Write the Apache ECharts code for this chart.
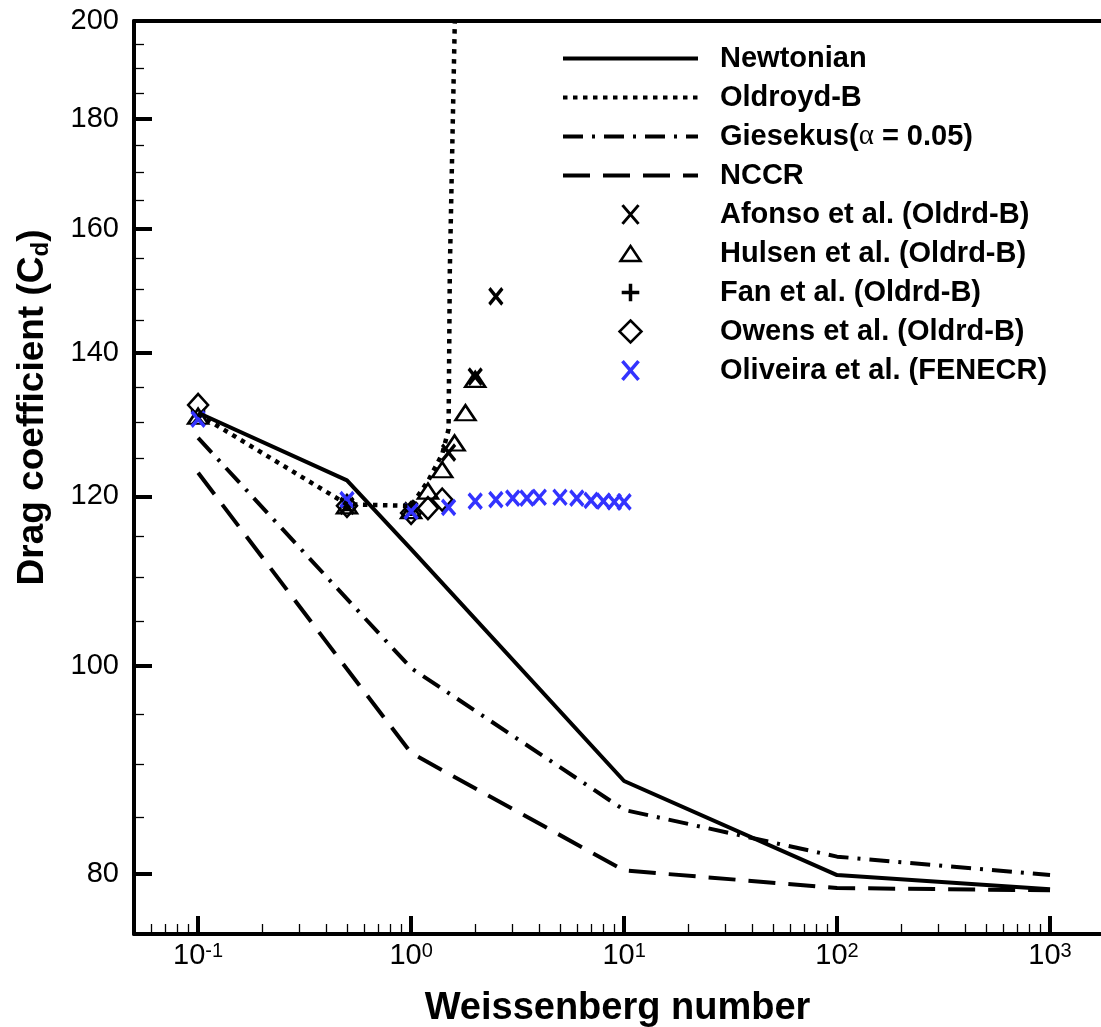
<!DOCTYPE html>
<html>
<head>
<meta charset="utf-8">
<title>Drag coefficient vs Weissenberg number</title>
<script src="https://cdn.jsdelivr.net/npm/echarts@6/dist/echarts.min.js"></script>
<style>
	html, body { margin: 0; padding: 0; background: #fff; }
	#chart { width: 1101px; height: 1027px; }
</style>
</head>
<body>
<div id="chart"></div>
<script>
	// values (Weissenberg number -> drag coefficient)
	var weLine = [0.1, 0.5, 1, 10, 100, 1000];
	var cdNewtonian = [131.3, 122.1, 113.4, 88.4, 79.9, 78.7];
	var cdGiesekus = [127.8, 107.5, 99.8, 85.7, 81.5, 79.9];
	var cdNccr = [123.1, 99.7, 91.1, 80.3, 78.8, 78.6];

	var weOldroyd = [0.1, 0.5, 1, 1.2, 1.4, 1.5, 1.52, 1.62];
	var cdOldroyd = [131.1, 119.0, 118.8, 122.0, 125.6, 129.0, 153, 210];

	var weAfonso = [0.1, 0.5, 1, 1.5, 2, 2.5];
	var cdAfonso = [130.6, 118.8, 118.2, 125.8, 136.5, 148.8];

	var weHulsen = [0.1, 0.5, 1, 1.2, 1.4, 1.6, 1.8, 2.0];
	var cdHulsen = [130.8, 118.8, 118.2, 120.7, 123.5, 127.1, 131.3, 136.1];

	var weFan = [0.5, 1];
	var cdFan = [118.8, 118.2];

	var weOwens = [0.1, 0.5, 1, 1.2, 1.4];
	var cdOwens = [132.4, 118.8, 117.9, 118.5, 119.6];

	var weOliveira = [0.1, 0.5, 1, 1.5, 2, 2.5, 3, 3.5, 4, 5, 6, 7, 8, 9, 10];
	var cdOliveira = [130.4, 119.6, 118.1, 118.6, 119.4, 119.6, 119.8, 119.8, 119.9, 119.9, 119.8, 119.5, 119.4, 119.3, 119.3];

	// axis ranges and ticks
	var xRange = [0.05, 1735];
	var yRange = [75, 200];
	var xMajor = [0.1, 1, 10, 100, 1000];
	var yMajor = [80, 100, 120, 140, 160, 180, 200];
	var yMinor = [85, 90, 95, 105, 110, 115, 125, 130, 135, 145, 150, 155, 165, 170, 175, 185, 190, 195];

	var xMinor = [];
	[0.01, 0.1, 1, 10, 100].forEach(function (d) {
		for (var k = 2; k <= 9; k++) {
			var v = k * d;
			if (v > xRange[0] && v < xRange[1]) xMinor.push(v);
		}
	});

	var lg = Math.log10;
	var font = 'Liberation Sans, Arial, Helvetica, sans-serif';
	var blue = '#3333ff';
	var xPath = 'path://M0,0L12,14M12,0L0,14';
	var plusPath = 'path://M6,0L6,12M0,6L12,6';
	var triPath = 'path://M10,0L20,15L0,15Z';
	var diaPath = 'path://M10,0L20,11L10,22L0,11Z';
	// legend icons: zero-length strokes widen the box so each shape sits at its own size
	var xIcon = 'path://M0,0L12,14M12,0L0,14M6,-1.2L6,-1.2M6,15.2L6,15.2';
	var plusIcon = 'path://M6,0L6,12M0,6L12,6M6,-1.5L6,-1.5M6,13.5L6,13.5';
	var triIcon = 'path://M10,0L20,15L0,15ZM10,-3.5L10,-3.5M10,18.5L10,18.5';
	var diaIcon = 'path://M10,0L20,10L10,20L0,10Z';

	function pts(xs, ys) {
		return xs.map(function (x, i) { return [lg(x), lg(ys[i])]; });
	}

	var names = {
		newt: 'Newtonian',
		oldb: 'Oldroyd-B',
		gies: 'Giesekus(α = 0.05)',
		nccr: 'NCCR',
		afonso: 'Afonso et al. (Oldrd-B)',
		hulsen: 'Hulsen et al. (Oldrd-B)',
		fan: 'Fan et al. (Oldrd-B)',
		owens: 'Owens et al. (Oldrd-B)',
		oliveira: 'Oliveira et al. (FENECR)'
	};

	function lineSeries(name, xs, ys, dash, width) {
		return {
			name: name,
			type: 'line',
			symbol: 'none',
			clip: true,
			data: pts(xs, ys),
			itemStyle: { color: '#000' },
			lineStyle: { color: '#000', width: width, type: dash }
		};
	}

	function markSeries(name, xs, ys, symbol, size, fill, stroke, bw) {
		return {
			name: name,
			type: 'scatter',
			symbol: symbol,
			symbolSize: size,
			symbolKeepAspect: false,
			data: pts(xs, ys),
			itemStyle: { color: fill, borderColor: stroke, borderWidth: bw, opacity: 1 }
		};
	}

	var hidden = { color: 'transparent', borderColor: 'transparent', borderWidth: 0 };

	var chart = echarts.init(document.getElementById('chart'), null, { renderer: 'canvas' });

	var option = {
		animation: false,
		backgroundColor: '#fff',
		textStyle: { fontFamily: font, color: '#000' },
		grid: { left: 134, right: 0, top: 21, bottom: 93, outerBoundsMode: 'none', containLabel: false },
		legend: {
			orient: 'vertical',
			left: 556,
			top: 39,
			itemWidth: 135,
			itemHeight: 22,
			itemGap: 10,
			selectedMode: false,
			symbolKeepAspect: true,
			lineStyle: { width: 4 },
			textStyle: {
				fontFamily: font, fontSize: 29, fontWeight: 'bold', color: '#000',
				lineHeight: 28, padding: [0, 0, 0, 17],
				rich: {
					b: { fontFamily: font, fontSize: 29, fontWeight: 'bold', color: '#000', lineHeight: 28 },
					g: { fontFamily: 'Liberation Serif, serif', fontSize: 29, fontWeight: 'normal', color: '#000', lineHeight: 28 }
				}
			},
			formatter: function (name) {
				if (name === names.gies) return '{b|Giesekus(}{g|α}{b| = 0.05)}';
				return name;
			},
			data: [
				{ name: names.newt, itemStyle: hidden },
				{ name: names.oldb, itemStyle: hidden },
				{ name: names.gies, itemStyle: hidden },
				{ name: names.nccr, itemStyle: hidden },
				{ name: names.afonso, icon: xIcon, itemStyle: { borderWidth: 3 } },
				{ name: names.hulsen, icon: triIcon, itemStyle: { borderWidth: 2.5 } },
				{ name: names.fan, icon: plusIcon, itemStyle: { borderWidth: 3.5 } },
				{ name: names.owens, icon: diaIcon, itemStyle: { borderWidth: 2.5 } },
				{ name: names.oliveira, icon: xIcon, itemStyle: { borderWidth: 3.5 } }
			]
		},
		xAxis: [{
			type: 'value',
			position: 'bottom',
			min: lg(xRange[0]),
			max: lg(xRange[1]),
			splitLine: { show: false },
			axisLine: { show: true, onZero: false, lineStyle: { color: '#000', width: 4 } },
			axisTick: { show: true, inside: true, length: 18, customValues: xMajor.map(lg), lineStyle: { color: '#000', width: 4 } },
			axisLabel: {
				show: true,
				margin: 7,
				customValues: xMajor.map(lg),
				formatter: function (v) { return '{b|10}{s|' + Math.round(v) + '}'; },
				rich: {
					b: { fontFamily: font, fontSize: 29, color: '#000', lineHeight: 29 },
					s: { fontFamily: font, fontSize: 20, color: '#000', lineHeight: 12, verticalAlign: 'top' }
				}
			},
			name: 'Weissenberg number',
			nameLocation: 'middle',
			nameGap: 56,
			nameTextStyle: { fontFamily: font, fontSize: 38, fontWeight: 'bold', color: '#000' }
		}, {
			type: 'value',
			position: 'bottom',
			min: lg(xRange[0]),
			max: lg(xRange[1]),
			splitLine: { show: false },
			axisLine: { show: false, onZero: false },
			axisTick: { show: true, inside: true, length: 10, customValues: xMinor.map(lg), lineStyle: { color: '#000', width: 1.3 } },
			axisLabel: { show: false }
		}, {
			type: 'value',
			position: 'top',
			min: lg(xRange[0]),
			max: lg(xRange[1]),
			splitLine: { show: false },
			axisLine: { show: true, onZero: false, lineStyle: { color: '#000', width: 4 } },
			axisTick: { show: false },
			axisLabel: { show: false }
		}],
		yAxis: [{
			type: 'value',
			position: 'left',
			min: lg(yRange[0]),
			max: lg(yRange[1]),
			splitLine: { show: false },
			axisLine: { show: true, onZero: false, lineStyle: { color: '#000', width: 4 } },
			axisTick: { show: true, inside: true, length: 18, customValues: yMajor.map(lg), lineStyle: { color: '#000', width: 4 } },
			axisLabel: {
				show: true,
				margin: 15,
				customValues: yMajor.map(lg),
				formatter: function (v) { return String(Math.round(Math.pow(10, v))); },
				fontFamily: font, fontSize: 29, color: '#000'
			},
			name: '{t|Drag coefficient (C}{s|d}{t|)}',
			nameLocation: 'middle',
			nameGap: 81,
			nameMoveOverlap: false,
			nameTextStyle: {
				fontFamily: font, fontSize: 37, fontWeight: 'bold', color: '#000',
				padding: [0, 0, 0, 140],
				rich: {
					t: { fontFamily: font, fontSize: 37, fontWeight: 'bold', color: '#000', lineHeight: 40 },
					s: { fontFamily: font, fontSize: 24, fontWeight: 'bold', color: '#000', lineHeight: 22, verticalAlign: 'bottom' }
				}
			}
		}, {
			type: 'value',
			position: 'left',
			min: lg(yRange[0]),
			max: lg(yRange[1]),
			splitLine: { show: false },
			axisLine: { show: false, onZero: false },
			axisTick: { show: true, inside: true, length: 10, customValues: yMinor.map(lg), lineStyle: { color: '#000', width: 1.3 } },
			axisLabel: { show: false }
		}],
		series: [
			lineSeries(names.newt, weLine, cdNewtonian, 'solid', 4),
			lineSeries(names.oldb, weOldroyd, cdOldroyd, [4.5, 5.5], 4.5),
			lineSeries(names.gies, weLine, cdGiesekus, [20, 9, 3, 9], 4),
			lineSeries(names.nccr, weLine, cdNccr, [27, 13], 4),
			markSeries(names.afonso, weAfonso, cdAfonso, xPath, [13, 16], '#000', '#000', 3.5),
			markSeries(names.hulsen, weHulsen, cdHulsen, triPath, [20, 15], 'transparent', '#000', 2.5),
			markSeries(names.fan, weFan, cdFan, plusPath, [12, 11], '#000', '#000', 4),
			markSeries(names.owens, weOwens, cdOwens, diaPath, [20, 22], 'transparent', '#000', 2.5),
			markSeries(names.oliveira, weOliveira, cdOliveira, xPath, [13, 15], blue, blue, 3.5)
		]
	};

	chart.setOption(option);
</script>
</body>
</html>
